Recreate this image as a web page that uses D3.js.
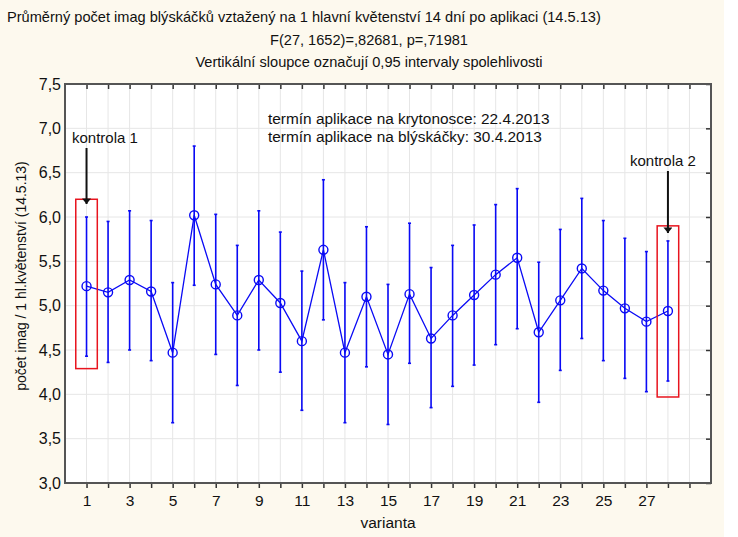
<!DOCTYPE html>
<html><head><meta charset="utf-8">
<script src="https://cdn.jsdelivr.net/npm/d3@7"></script>
<style>
html,body{margin:0;padding:0;background:#fff;}
svg{display:block;font-family:"Liberation Sans",Arial,sans-serif;}
</style></head>
<body><svg id="c" width="738" height="537"></svg>
<script>
const categories = d3.range(1, 29);
const means = [5.22,5.15,5.29,5.16,4.47,6.02,5.24,4.89,5.29,5.03,4.60,5.63,4.47,5.10,4.45,5.13,4.63,4.89,5.12,5.35,5.54,4.70,5.06,5.42,5.17,4.97,4.82,4.94];
const upper = [6.00,5.95,6.07,5.96,5.26,6.80,6.03,5.68,6.07,5.83,5.39,6.42,5.26,5.89,5.24,5.93,5.43,5.68,5.91,6.14,6.32,5.49,5.86,6.21,5.96,5.76,5.61,5.73];
const lower = [4.43,4.36,4.50,4.38,3.68,5.23,4.45,4.10,4.50,4.25,3.82,4.84,3.68,4.31,3.66,4.35,3.85,4.09,4.33,4.56,4.74,3.91,4.27,4.63,4.38,4.18,4.03,4.15];
const yTicks = [3.0,3.5,4.0,4.5,5.0,5.5,6.0,6.5,7.0,7.5];
const xTickLabels = [1,3,5,7,9,11,13,15,17,19,21,23,25,27];
const titleLines = ["Průměrný počet imag blýskáčků vztažený na 1 hlavní květenství 14 dní po aplikaci (14.5.13)",
  "F(27, 1652)=,82681, p=,71981",
  "Vertikální sloupce označují 0,95 intervaly spolehlivosti"];
const notes = ["termín aplikace na krytonosce: 22.4.2013","termín aplikace na blýskáčky: 30.4.2013"];
const controls = [{label:"kontrola 1", cat:1, y0:4.29, y1:6.20},{label:"kontrola 2", cat:28, y0:3.97, y1:5.90}];

const svg = d3.select("#c");
svg.append("rect").attr("x",0).attr("y",0).attr("width",724).attr("height",537).attr("fill","#fdf9ee");
const L=65,R=711,T=84,B=483;
const x = d3.scaleLinear().domain([0,30]).range([L,R]);
const y = d3.scaleLinear().domain([3,7.5]).range([B,T]);
const blue="#0a0af5", frame="#555";
const fmt = v => d3.format(".1f")(v).replace(".",",");

svg.append("rect").attr("x",L).attr("y",T).attr("width",R-L).attr("height",B-T).attr("fill","#fff");
// grid
const g = svg.append("g");
g.selectAll("line.gx").data(d3.range(1,30)).join("line")
  .attr("x1",d=>x(d)).attr("x2",d=>x(d)).attr("y1",T).attr("y2",B).attr("stroke","#e6e6e6").attr("stroke-width",1);
g.selectAll("line.gy").data(yTicks.slice(1,-1)).join("line")
  .attr("x1",L).attr("x2",R).attr("y1",d=>y(d)).attr("y2",d=>y(d)).attr("stroke","#e6e6e6").attr("stroke-width",1);

// axes
const xAxis = d3.axisBottom(x).tickValues(d3.range(1,30)).tickSize(5).tickFormat(d=>xTickLabels.includes(d)?d:"");
const ax = svg.append("g").attr("transform",`translate(0,${B})`).call(xAxis);
ax.select(".domain").remove();
ax.selectAll(".tick line").attr("stroke","#333").attr("stroke-width",1.5);
ax.selectAll(".tick text").attr("font-size",15.5).attr("fill","#111").attr("dy","0.95em").attr("font-family","Liberation Sans, Arial, sans-serif");
const axTop = svg.append("g").attr("transform",`translate(0,${T})`).call(d3.axisBottom(x).tickValues(d3.range(1,30)).tickSize(5).tickFormat(""));
axTop.select(".domain").remove(); axTop.selectAll(".tick line").attr("stroke","#333").attr("stroke-width",1.5);
const ay = svg.append("g").attr("transform",`translate(${L},0)`).call(d3.axisLeft(y).tickValues(yTicks).tickSize(0).tickPadding(4).tickFormat(fmt));
ay.select(".domain").remove();
ay.selectAll(".tick text").attr("font-size",16).attr("fill","#111").attr("font-family","Liberation Sans, Arial, sans-serif");
const ayR = svg.append("g").attr("transform",`translate(${R},0)`).call(d3.axisLeft(y).tickValues(yTicks).tickSize(5).tickFormat(""));
ayR.select(".domain").remove(); ayR.selectAll(".tick line").attr("stroke","#333").attr("stroke-width",1.5);
svg.append("rect").attr("x",L).attr("y",T).attr("width",R-L).attr("height",B-T).attr("fill","none").attr("stroke",frame).attr("stroke-width",2);

// error bars
const data = categories.map((c,i)=>({c, m:means[i], u:upper[i], l:lower[i]}));
const eb = svg.append("g").attr("stroke",blue).attr("stroke-width",1.6);
eb.selectAll("line.v").data(data).join("line").attr("x1",d=>x(d.c)).attr("x2",d=>x(d.c)).attr("y1",d=>y(d.u)).attr("y2",d=>y(d.l));
eb.selectAll("line.cu").data(data).join("line").attr("x1",d=>x(d.c)-1.5).attr("x2",d=>x(d.c)+1.5).attr("y1",d=>y(d.u)).attr("y2",d=>y(d.u));
eb.selectAll("line.cl").data(data).join("line").attr("x1",d=>x(d.c)-1.5).attr("x2",d=>x(d.c)+1.5).attr("y1",d=>y(d.l)).attr("y2",d=>y(d.l));
svg.append("path").datum(data).attr("d",d3.line().x(d=>x(d.c)).y(d=>y(d.m))).attr("fill","none").attr("stroke",blue).attr("stroke-width",1.3);
svg.append("g").selectAll("circle").data(data).join("circle").attr("cx",d=>x(d.c)).attr("cy",d=>y(d.m)).attr("r",4.5)
  .attr("fill","none").attr("stroke",blue).attr("stroke-width",1.4);

// control boxes + arrows
svg.append("defs").append("marker").attr("id","ah").attr("viewBox","0 0 10 16").attr("refX",10).attr("refY",8)
  .attr("markerWidth",6).attr("markerHeight",4.5).attr("orient","auto").attr("markerUnits","strokeWidth")
  .append("path").attr("d","M0,0L10,8L0,16z").attr("fill","#111");
controls.forEach((k,i)=>{
  svg.append("rect").attr("x",x(k.cat-0.5)).attr("y",y(k.y1)).attr("width",x(k.cat+0.5)-x(k.cat-0.5)).attr("height",y(k.y0)-y(k.y1))
    .attr("fill","none").attr("stroke","#e8141e").attr("stroke-width",1.5);
  const tx = i===0 ? 72 : 630, ty = i===0 ? 143 : 166;
  svg.append("text").attr("x",tx).attr("y",ty).attr("font-size",15).attr("fill","#111").text(k.label);
  const yTip = i===0 ? 204 : 233;
  svg.append("line").attr("x1",x(k.cat)).attr("x2",x(k.cat)).attr("y1",ty+5).attr("y2",yTip)
    .attr("stroke","#111").attr("stroke-width",2).attr("marker-end","url(#ah)");
});

// notes
svg.append("g").selectAll("text").data(notes).join("text").attr("x",268).attr("y",(d,i)=>124+i*17.5)
  .attr("font-size",15.4).attr("fill","#111").text(d=>d);

// titles
svg.append("g").selectAll("text").data(titleLines).join("text")
  .attr("x",(d,i)=>i===0?7:369).attr("text-anchor",(d,i)=>i===0?"start":"middle")
  .attr("y",(d,i)=>22+i*22.5).attr("font-size",14.6).attr("fill","#111").text(d=>d);

// axis titles
svg.append("text").attr("x",388).attr("y",528).attr("text-anchor","middle").attr("font-size",15.5).attr("fill","#111").text("varianta");
svg.append("text").attr("transform","translate(26,276) rotate(-90)").attr("text-anchor","middle").attr("font-size",14).attr("fill","#111")
  .text("počet imag / 1 hl.květenství (14.5.13)");
</script></body></html>
